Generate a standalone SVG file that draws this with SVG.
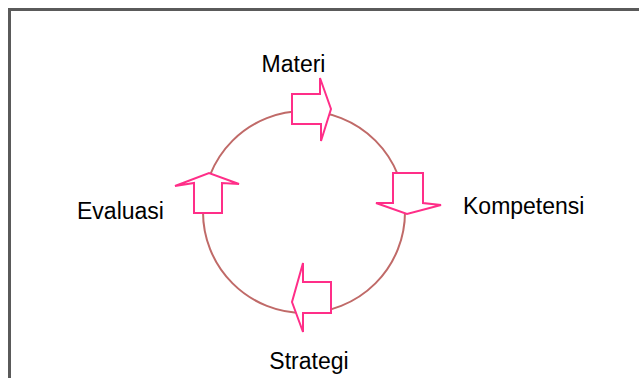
<svg xmlns="http://www.w3.org/2000/svg" width="639" height="378" viewBox="0 0 639 378">
<style>
.lbl{font-family:"Liberation Sans",Arial,sans-serif;font-size:23px;fill:#000}
.arr{fill:#fff;stroke:#ff2e88;stroke-width:2;stroke-linejoin:miter}
.ring{fill:none;stroke:#c06a68;stroke-width:2}
</style>
<rect width="639" height="378" fill="#fff"/>
<path d="M9.5 378 V9.5 H639" fill="none" stroke="#5a5a5a" stroke-width="3"/>
<g id="cycle">
<circle class="ring" cx="304" cy="212" r="101"/>
</g>
<g id="connectors">
<polygon class="arr" points="292,94 320,94 320,78 331,109 321,141 321,124 292,124"/>
<polygon class="arr" points="393,173 423,173 423,203 441,205 407,214 376,203 393,203"/>
<polygon class="arr" points="331,282 331,313 303,313 303,332 292,302 303,263 303,282"/>
<polygon class="arr" points="194,213 222,213 222,183 239,184 209,173 175,186 194,183"/>
</g>
<g id="materi"><text class="lbl" x="293.5" y="72" text-anchor="middle">Materi</text></g>
<g id="kompetensi"><text class="lbl" x="463" y="214">Kompetensi</text></g>
<g id="strategi"><text class="lbl" x="309" y="369" text-anchor="middle">Strategi</text></g>
<g id="evaluasi"><text class="lbl" x="77" y="219">Evaluasi</text></g>
</svg>
